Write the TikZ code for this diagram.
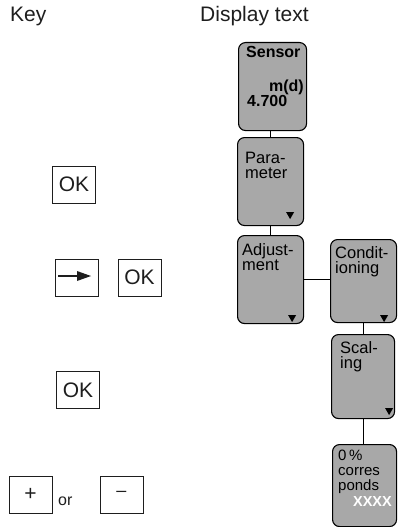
\documentclass[tikz,border=0pt]{standalone}
\usepackage{fontspec}
\setmainfont{Liberation Sans}
\usetikzlibrary{calc}
\definecolor{boxgray}{HTML}{A8A8A8}
\definecolor{ink}{HTML}{1E1E1E}
\tikzset{
  disp/.style={draw=black, line width=1.1pt, fill=boxgray, rounded corners=7pt, anchor=north west, inner sep=0pt},
  keybox/.style={draw=ink, line width=0.9pt, minimum width=43pt, minimum height=37pt, inner sep=0pt, font=\fontsize{21}{21}\selectfont, text=ink},
  dtxt/.style={anchor=base west, inner sep=0pt, font=\fontsize{16.5}{16.5}\selectfont},
  stxt/.style={anchor=base west, inner sep=0pt, font=\fontsize{15}{15}\selectfont},
  dbold/.style={anchor=base west, inner sep=0pt, font=\fontsize{16}{16}\selectfont\bfseries},
  head/.style={anchor=base west, inner sep=0pt, font=\fontsize{21}{21}\selectfont, text=ink},
  link/.style={line width=1pt, black},
}
\newcommand{\dmark}[3]{\fill ($(#1.south east)+(#2,#3)$) -- ++(8,0) -- ++(-4,7) -- cycle;}
\begin{document}
\begin{tikzpicture}[x=1pt,y=-1pt]
\useasboundingbox (0,0) rectangle (397,527);
% headers
\node[head] (hkey) at (10,22) {Key};
\node[head] (hdisp) at (200,22) {Display text};
% display boxes
\node[disp, minimum width=68pt, minimum height=88pt] (sensor) at (238,42) {};
\node[disp, minimum width=66pt, minimum height=88pt] (param) at (237,137) {};
\node[disp, minimum width=66pt, minimum height=88pt] (adjust) at (237,235) {};
\node[disp, minimum width=66pt, minimum height=83pt] (cond) at (330,239) {};
\node[disp, minimum width=63pt, minimum height=84pt] (scal) at (331,334) {};
\node[disp, minimum width=64pt, minimum height=82pt] (pct) at (332,444) {};
% connectors
\draw[link] (param.north |- sensor.south) -- (param.north);
\draw[link] (param.south) -- (adjust.north);
\draw[link] (adjust.east) -- (adjust.east -| cond.west);
\draw[link] (scal.north |- cond.south) -- (scal.north);
\draw[link] (scal.south) -- (scal.south |- pct.north);
% texts
\node[dbold] (t1) at (246,58) {Sensor};
\node[dbold, anchor=base east] (t2) at (304,91.5) {m(d)};
\node[dbold] (t3) at (247,106.5) {4.700};
\node[dtxt] (t4) at (245,163) {Para-};
\node[dtxt] (t5) at (245,178) {meter};
\node[dtxt] (t6) at (242,255) {Adjust-};
\node[dtxt] (t7) at (242,270) {ment};
\node[dtxt] (t8) at (335,258) {Condit-};
\node[dtxt] (t9) at (335,273) {ioning};
\node[dtxt] (t10) at (340,353) {Scal-};
\node[dtxt] (t11) at (340,368) {ing};
\node[stxt] (t12) at (338,460) {0\,\%};
\node[stxt] (t13) at (338,475) {corres};
\node[stxt] (t14) at (338,490) {ponds};
\node[anchor=base east, inner sep=0pt, font=\fontsize{14.5}{14.5}\selectfont\bfseries, text=white] (t15) at (392,506) {XXXX};
% markers
\dmark{param}{-18}{-14}
\dmark{adjust}{-16}{-9}
\dmark{cond}{-17}{-8}
\dmark{scal}{-10}{-11}
% keys
\node[keybox] (ok1) at (74,184.5) {OK};
\node[keybox] (arrowkey) at (76.5,277.5) {};
\node[keybox] (ok2) at (139.5,277.5) {OK};
\node[keybox] (ok3) at (78,390) {OK};
\node[keybox] (plus) at (30.5,494.5) {+};
\node[keybox] (minus) at (121.5,494.5) {\fontsize{18}{18}\selectfont\raisebox{1pt}{–}};
\node[anchor=base west, inner sep=0pt, font=\fontsize{16}{16}\selectfont, text=ink] (or) at (58,505) {or};
\draw[line width=1.2pt, ink] ($(arrowkey.center)+(-18.5,-1.5)$) -- ($(arrowkey.center)+(2,-1.5)$);
\fill[ink] ($(arrowkey.center)+(0.5,-6.5)$) -- ($(arrowkey.center)+(14.5,-1.5)$) -- ($(arrowkey.center)+(0.5,3.5)$) -- cycle;
\end{tikzpicture}
\end{document}
